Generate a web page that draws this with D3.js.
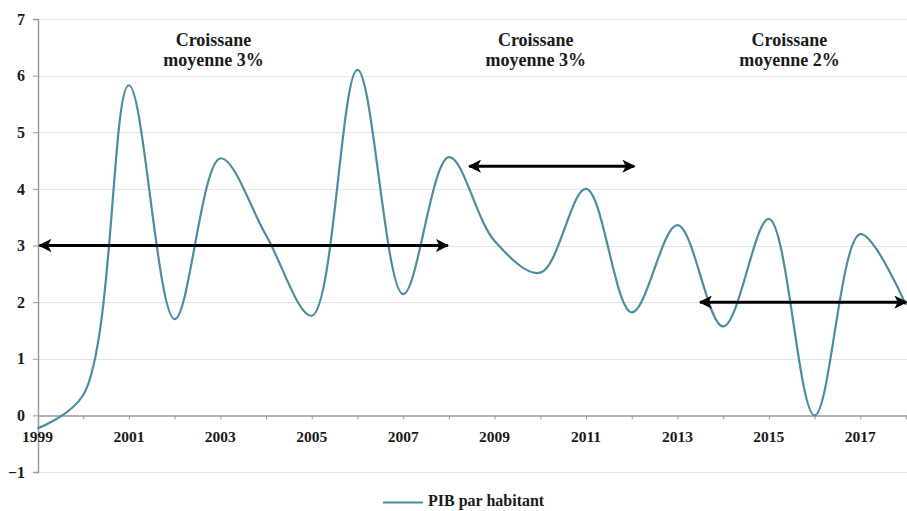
<!DOCTYPE html>
<html><head><meta charset="utf-8">
<script src="https://cdn.jsdelivr.net/npm/d3@7/dist/d3.min.js"></script>
<style>
body{margin:0;background:#fff;}
text{font-family:"Liberation Serif","DejaVu Serif",serif;font-weight:bold;fill:#1a1a1a;}
</style></head><body>
<svg id="c" width="907" height="511"></svg>
<script>
const years = [1999,2000,2001,2002,2003,2004,2005,2006,2007,2008,2009,2010,2011,2012,2013,2014,2015,2016,2017,2018];
const pib   = [-0.23,0.36,5.83,1.7,4.54,3.18,1.76,6.1,2.14,4.56,3.08,2.52,4.0,1.82,3.36,1.57,3.47,0.0,3.2,1.95];
const yTicks = [-1,0,1,2,3,4,5,6,7];
const xLabels = [1999,2001,2003,2005,2007,2009,2011,2013,2015,2017];
const arrows = [
  {x0:1999,x1:2008.02,y:3.0},
  {x0:2008.4,x1:2012.1,y:4.4},
  {x0:2013.45,x1:2018.05,y:2.0}
];
const notes = [
  {x:2002.85,y:6.52,lines:["Croissane","moyenne 3%"]},
  {x:2009.9,y:6.52,lines:["Croissane","moyenne 3%"]},
  {x:2015.45,y:6.52,lines:["Croissane","moyenne 2%"]}
];
const seriesName = "PIB par habitant";

const svg = d3.select("#c");
const x = d3.scaleLinear().domain([1999,2018]).range([37.5,906]);
const y = d3.scaleLinear().domain([-1,7]).range([472,19]);
const lineColor = "#4a8ca2";

// gridlines
svg.append("g").selectAll("line").data(yTicks.filter(d=>d!==0)).join("line")
  .attr("x1",38).attr("x2",907).attr("y1",d=>Math.round(y(d))+0.5).attr("y2",d=>Math.round(y(d))+0.5)
  .attr("stroke","#e4e4e4").attr("stroke-width",1);

// y axis
const ya = svg.append("g").attr("transform","translate(38,0)")
  .call(d3.axisLeft(y).tickValues(yTicks).tickSize(5).tickFormat(d3.format("d")));
ya.select(".domain").attr("stroke","#9a9a9a").attr("stroke-width",1.5);
ya.selectAll(".tick line").attr("stroke","#9a9a9a");
ya.selectAll(".tick text").attr("x",-13).style("font-size","16px").style("font-family","Liberation Serif").style("font-weight","bold").attr("fill","#1a1a1a");

// x axis at zero
const xa = svg.append("g").attr("transform",`translate(0,${y(0)})`)
  .call(d3.axisBottom(x).tickValues(years.slice(1)).tickSize(4).tickFormat(""));
xa.select(".domain").attr("stroke","#9a9a9a").attr("stroke-width",1.5).attr("d",`M38,0.5H907`);
xa.selectAll(".tick line").attr("stroke","#9a9a9a");
svg.append("g").selectAll("text").data(xLabels).join("text")
  .attr("x",d=>x(d)).attr("y",y(0)+27).attr("text-anchor","middle")
  .style("font-size","15.5px").text(d=>d);

// line
const line = d3.line().x((d,i)=>x(years[i])).y(d=>y(d)).curve(d3.curveCatmullRom.alpha(0.5));
svg.append("path").datum(pib).attr("d",line).attr("fill","none")
  .attr("stroke",lineColor).attr("stroke-width",2.2);

// arrows
const defs = svg.append("defs");
defs.append("marker").attr("id","ah").attr("viewBox","0 0 10 10").attr("refX",9).attr("refY",5)
  .attr("markerWidth",4.4).attr("markerHeight",4.4).attr("orient","auto-start-reverse")
  .attr("markerUnits","strokeWidth")
  .append("path").attr("d","M0,0L10,5L0,10L2.5,5Z").attr("fill","#000");
svg.append("g").selectAll("line").data(arrows).join("line")
  .attr("x1",d=>x(d.x0)+2).attr("x2",d=>x(d.x1)-2).attr("y1",d=>y(d.y)).attr("y2",d=>y(d.y))
  .attr("stroke","#000").attr("stroke-width",3)
  .attr("marker-start","url(#ah)").attr("marker-end","url(#ah)");

// notes
const ng = svg.append("g").selectAll("text").data(notes).join("text")
  .attr("x",d=>x(d.x)).attr("y",d=>y(d.y)).attr("text-anchor","middle").style("font-size","18px");
ng.selectAll("tspan").data(d=>d.lines.map(l=>({l,x:x(d.x)}))).join("tspan")
  .attr("x",d=>d.x).attr("dy",(d,i)=>i?20:0).text(d=>d.l);

// legend
svg.append("line").attr("x1",383).attr("x2",423).attr("y1",502.5).attr("y2",502.5)
  .attr("stroke",lineColor).attr("stroke-width",2.2);
svg.append("text").attr("x",428).attr("y",506).style("font-size","16px").text(seriesName);
</script>
</body></html>
